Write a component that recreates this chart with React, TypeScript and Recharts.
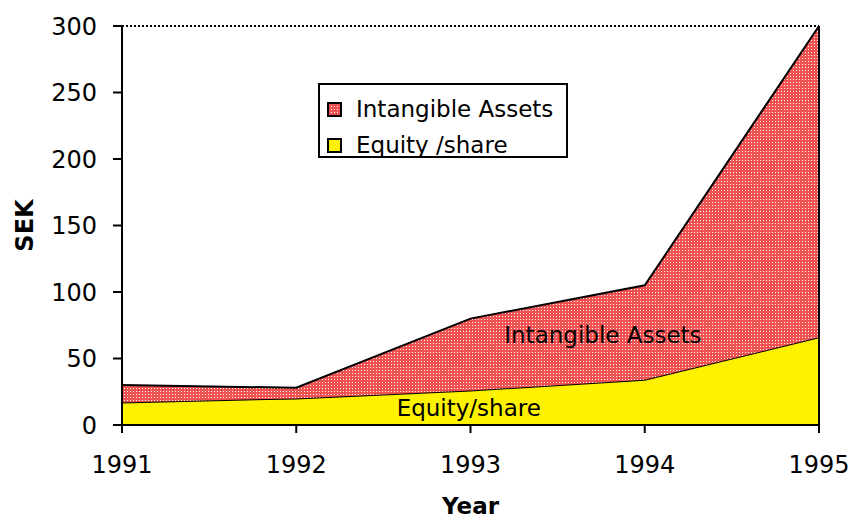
import {
  AreaChart,
  Area,
  XAxis,
  YAxis,
  Legend,
  ReferenceLine,
  ReferenceDot,
} from 'recharts';

// values (SEK per share)
const years = [1991, 1992, 1993, 1994, 1995];
const equityShare = [17, 20, 26, 34, 66];
const intangibleAssets = [13, 8, 54, 71, 234];
const yTicks = [0, 50, 100, 150, 200, 250, 300];

const chartData = years.map((year, i) => ({
  year,
  equity: equityShare[i],
  intangible: intangibleAssets[i],
}));

const FONT = '"DejaVu Sans", Verdana, sans-serif';

const HatchPattern = ({ id }: { id: string }) => (
  <pattern id={id} width="3" height="3" patternUnits="userSpaceOnUse">
    <rect width="3" height="3" fill="#f05252" />
    <rect x="1" y="1" width="1" height="1" fill="#ffffff" />
  </pattern>
);

const legendItems = [
  { label: 'Intangible Assets', fill: 'url(#hatchLegend)' },
  { label: 'Equity /share', fill: '#fff200' },
];

const LegendBox = () => (
  <div
    style={{
      boxSizing: 'border-box',
      width: 250,
      height: 75,
      border: '2px solid #000',
      background: '#fff',
      padding: '6px 0 0 7px',
      fontFamily: FONT,
      fontSize: 23,
      color: '#000',
    }}
  >
    <svg width="0" height="0" style={{ position: 'absolute' }}>
      <defs>
        <HatchPattern id="hatchLegend" />
      </defs>
    </svg>
    {legendItems.map((item) => (
      <div key={item.label} style={{ display: 'flex', alignItems: 'center', height: 36 }}>
        <svg width="15" height="15" style={{ marginRight: 14 }}>
          <rect x="1" y="1" width="13" height="13" fill={item.fill} stroke="#000" strokeWidth="2" />
        </svg>
        <span>{item.label}</span>
      </div>
    ))}
  </div>
);

const SekLabel = ({ viewBox }: any) => {
  const cy = viewBox.y + viewBox.height / 2;
  return (
    <text
      x={33}
      y={cy}
      transform={`rotate(-90, 33, ${cy})`}
      textAnchor="middle"
      fontFamily={FONT}
      fontWeight="bold"
      fontSize={24}
      fill="#000"
    >
      SEK
    </text>
  );
};

export default function App() {
  return (
    <div style={{ position: 'fixed', left: 0, top: 0, width: 849, height: 519, background: '#fff', fontFamily: FONT }}>
      <AreaChart width={849} height={519} data={chartData} margin={{ top: 26, right: 30, left: 0, bottom: 0 }}>
        <defs>
          <HatchPattern id="hatch" />
        </defs>
        <XAxis
          dataKey="year"
          type="number"
          domain={[1991, 1995]}
          ticks={years}
          height={94}
          stroke="#000"
          strokeWidth={2}
          tickSize={8}
          tickMargin={23}
          tick={{ fill: '#000', fontSize: 24, fontFamily: FONT }}
          label={{
            value: 'Year',
            position: 'insideBottom',
            offset: 5,
            fill: '#000',
            fontSize: 23,
            fontWeight: 'bold',
            fontFamily: FONT,
          }}
        />
        <YAxis
          domain={[0, 300]}
          ticks={yTicks}
          width={122}
          stroke="#000"
          strokeWidth={2}
          tickSize={9}
          tickMargin={16}
          tick={{ fill: '#000', fontSize: 24, fontFamily: FONT }}
          label={<SekLabel />}
        />
        <Area
          type="linear"
          dataKey="equity"
          stackId="a"
          name="Equity /share"
          fill="#fff200"
          fillOpacity={1}
          stroke="#000"
          strokeWidth={2}
          isAnimationActive={false}
        />
        <Area
          type="linear"
          dataKey="intangible"
          stackId="a"
          name="Intangible Assets"
          fill="url(#hatch)"
          fillOpacity={1}
          stroke="#000"
          strokeWidth={2}
          isAnimationActive={false}
        />
        <ReferenceLine y={300} stroke="#000" strokeWidth={2} strokeDasharray="2 2" />
        <ReferenceLine x={1995} stroke="#000" strokeWidth={2} />
        <ReferenceDot
          x={1993.76}
          y={68}
          r={0}
          stroke="none"
          label={{ value: 'Intangible Assets', position: 'center', fill: '#000', fontSize: 23, fontFamily: FONT }}
        />
        <ReferenceDot
          x={1992.99}
          y={13}
          r={0}
          stroke="none"
          label={{ value: 'Equity/share', position: 'center', fill: '#000', fontSize: 23, fontFamily: FONT }}
        />
        <Legend
          layout="vertical"
          align="center"
          verticalAlign="middle"
          wrapperStyle={{ left: 318, top: 83, width: 250 }}
          content={() => <LegendBox />}
        />
      </AreaChart>
    </div>
  );
}
